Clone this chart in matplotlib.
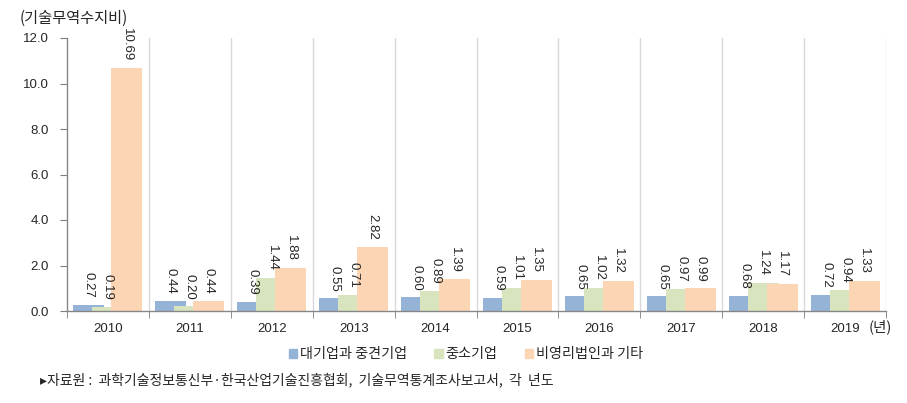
import matplotlib
matplotlib.use("Agg")
import matplotlib.pyplot as plt
import numpy as np
from matplotlib.patches import Rectangle

years = ["2010", "2011", "2012", "2013", "2014", "2015", "2016", "2017", "2018", "2019"]
large = [0.27, 0.44, 0.39, 0.55, 0.60, 0.59, 0.65, 0.65, 0.68, 0.72]
sme = [0.19, 0.20, 1.44, 0.71, 0.89, 1.01, 1.02, 0.97, 1.24, 0.94]
nonprofit = [10.69, 0.44, 1.88, 2.82, 1.39, 1.35, 1.32, 0.99, 1.17, 1.33]
series_names = ["대기업과 중견기업", "중소기업", "비영리법인과 기타"]
yticks = [0.0, 2.0, 4.0, 6.0, 8.0, 10.0, 12.0]

colors = ["#95B3D7", "#D7E4BD", "#FCD5B5"]
text_color = "#262626"
num_font = "Liberation Sans"

plt.rcParams['font.family'] = ['Noto Sans CJK KR', 'DejaVu Sans']

fig = plt.figure(figsize=(9.07, 4.03), dpi=100)
ax = fig.add_axes([67/907, 1-311/403, (886-67)/907, (311-38)/403])

x = np.arange(len(years))
width = 0.378
offsets = [-0.232, 0.0, 0.232]
for vals, off, col in zip([large, sme, nonprofit], offsets, colors):
    ax.bar(x + off, vals, width=width, color=col, zorder=2)
    for xi, v in zip(x + off, vals):
        ax.annotate(f"{v:.2f}", (xi, v), xytext=(0, 5), textcoords="offset points",
                    rotation=270, ha="center", va="bottom", fontsize=9.5,
                    color=text_color, family=num_font, zorder=3)

ax.set_xlim(-0.5, len(years) - 0.5)
ax.set_ylim(0, 12)
ax.set_yticks(yticks)
ax.set_yticklabels([f"{t:.1f}" for t in yticks], fontsize=9.5, color=text_color, family=num_font)
ax.set_xticks(x)
ax.set_xticklabels(years, fontsize=9.5, color=text_color, family=num_font)
ax.set_xticks(np.arange(-0.5, len(years)), minor=True)
ax.tick_params(axis="x", which="major", length=0, pad=9)
ax.tick_params(axis="x", which="minor", length=5, color="#7F7F7F", direction="out")
ax.tick_params(axis="y", length=5, color="#7F7F7F", direction="out", pad=8)

for b in np.arange(0.5, len(years) + 0.5):
    ax.axvline(b, color="#D9D9D9", linewidth=1, zorder=1)

for s in ["top", "right"]:
    ax.spines[s].set_visible(False)
for s in ["left", "bottom"]:
    ax.spines[s].set_color("#868686")
    ax.spines[s].set_linewidth(1)

fig.text(20/907, 1-18/403, "(기술무역수지비)", fontsize=11, color=text_color, va="center", ha="left")
fig.text(880/907, 1-327/403, "(년)", fontsize=10.5, color=text_color, va="center", ha="center")

handles = [Rectangle((0, 0), 1, 1, color=c) for c in colors]
leg = fig.legend(handles, series_names, loc="center", bbox_to_anchor=(466/907, 1-354/403),
                 ncol=3, frameon=False, fontsize=10.2, handlelength=0.6, handleheight=0.6,
                 handletextpad=0.2, columnspacing=1.9)
for t in leg.get_texts():
    t.set_color(text_color)

fig.text(40/907, 1-380/403, "▸자료원 :  과학기술정보통신부·한국산업기술진흥협회,  기술무역통계조사보고서,  각  년도",
         fontsize=10, color=text_color, va="center", ha="left",
         family=['Noto Sans CJK KR', 'DejaVu Sans'])

fig.savefig("out.png", dpi=100)
